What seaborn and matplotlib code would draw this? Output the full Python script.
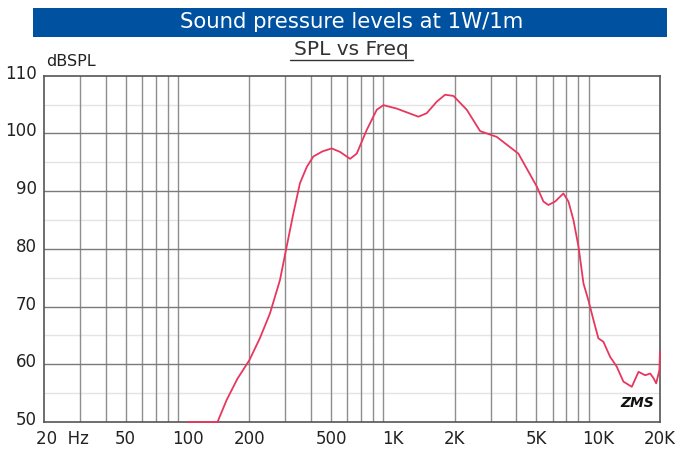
import numpy as np
import pandas as pd
import matplotlib
matplotlib.use("Agg")
import matplotlib.pyplot as plt
import matplotlib.transforms as mtransforms
import seaborn as sns
from matplotlib.patches import Rectangle
from matplotlib.lines import Line2D

# datos
freq = [100, 140, 155, 175, 200, 225, 252, 282, 304, 328, 353, 381, 410, 455, 504,
        553, 619, 667, 746, 835, 900, 1045, 1331, 1462, 1636, 1796, 1972, 2291,
        2661, 3206, 4087, 4573, 5024, 5412, 5720, 6170, 6773, 7165, 7577, 8019,
        8480, 8960, 9480, 10024, 10604, 11430, 12310, 13270, 14580, 15720, 16940,
        17920, 18600, 19160, 19870, 20000]
spl = [50.0, 50.0, 53.8, 57.5, 60.7, 64.5, 68.8, 74.6, 80.4, 86.2, 91.4, 94.2, 96.0,
       96.9, 97.4, 96.8, 95.6, 96.5, 100.6, 104.1, 104.9, 104.3, 102.9, 103.5,
       105.5, 106.7, 106.5, 104.1, 100.4, 99.4, 96.5, 93.4, 90.8, 88.2, 87.6, 88.2,
       89.6, 88.2, 85.0, 80.4, 74.0, 71.1, 67.7, 64.5, 63.9, 61.3, 59.6, 57.0, 56.1,
       58.7, 58.1, 58.4, 57.6, 56.7, 59.0, 62.2]
xticks = [20, 50, 100, 200, 500, 1000, 2000, 5000, 10000, 20000]
xlabels = ['20  Hz', '50', '100', '200', '500', '1K', '2K', '5K', '10K', '20K']
yticks = [50, 60, 70, 80, 90, 100, 110]

df = pd.DataFrame({'Freq': freq, 'SPL': spl})

sns.set_style("white")
plt.rcParams['font.family'] = ['DejaVu Sans']

fig = plt.figure(figsize=(6.79, 4.49), dpi=100)
ax = fig.add_axes([0.0648, 0.0601, 0.9072, 0.7713])

# rejilla
menores = [f * d for d in [10, 100, 1000] for f in range(2, 10)] + [20000]
for f in menores:
    if 20 < f < 20000:
        ax.axvline(f, color='#8e8e8e', linewidth=1.0, zorder=1)
for y in range(55, 110, 10):
    ax.axhline(y, color='#e4e4e4', linewidth=1.0, zorder=0)
for y in range(60, 110, 10):
    ax.axhline(y, color='#7a7a7a', linewidth=1.0, zorder=1)

sns.lineplot(data=df, x='Freq', y='SPL', ax=ax, color='#e8375f', linewidth=1.3,
             zorder=3, clip_on=False)

ax.set_xscale('log')
ax.set_xlim(20, 20000)
ax.set_ylim(50, 110)
ax.set_xticks(xticks)
ax.set_xticklabels(xlabels)
ax.minorticks_off()
ax.set_yticks(yticks)
ax.tick_params(axis='both', labelsize=12, length=0, colors='#222222')
ax.tick_params(axis='x', pad=6)
ax.tick_params(axis='y', pad=5)
ax.set_xlabel('')
ax.set_ylabel('')
for s in ax.spines.values():
    s.set_color('#555555')
    s.set_linewidth(1.2)
    s.set_zorder(2)

# etiquetas del eje y un poco arriba, "20 Hz" alineado a la izquierda
subir = mtransforms.ScaledTranslation(0, 4 / 100, fig.dpi_scale_trans)
for lab in ax.get_yticklabels():
    lab.set_transform(lab.get_transform() + subir)
primera = ax.get_xticklabels()[0]
primera.set_horizontalalignment('left')
primera.set_transform(primera.get_transform() +
                      mtransforms.ScaledTranslation(-8 / 100, 0, fig.dpi_scale_trans))

# titulos
fig.patches.append(Rectangle((0.0486, 0.9176), 0.9334, 0.0645, transform=fig.transFigure,
                             facecolor='#0052a1', edgecolor='none'))
fig.text(0.518, 0.950, 'Sound pressure levels at 1W/1m', color='white', fontsize=15.3,
         ha='center', va='center')
fig.text(0.518, 0.889, 'SPL vs Freq', color='#333333', fontsize=14.5, ha='center', va='center')
fig.add_artist(Line2D([0.427, 0.608], [0.866, 0.866], transform=fig.transFigure,
                      color='#333333', linewidth=1.0))
fig.text(0.068, 0.862, 'dBSPL', color='#222222', fontsize=11.5, ha='left', va='center')
ax.text(0.99, 0.035, 'ZMS', transform=ax.transAxes, fontsize=10, style='italic',
        fontweight='bold', ha='right', va='bottom', color='#111111')

plt.savefig('out.png', dpi=100, facecolor='white')
